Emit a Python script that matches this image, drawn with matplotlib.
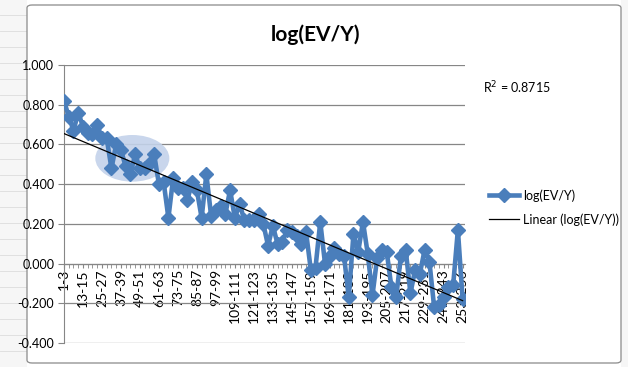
import numpy as np
import matplotlib
matplotlib.use("Agg")
import matplotlib.pyplot as plt
from matplotlib.patches import Ellipse, FancyBboxPatch, Rectangle
from matplotlib.lines import Line2D

plt.rcParams['font.family'] = ['Lato', 'DejaVu Sans']

# category groups 1-3, 4-6, ..., 250-252, 253-256
starts = list(range(1, 254, 3))
categories = [f"{s}-{s + 2}" for s in starts[:-1]] + ["253-256"]

log_ev_y = [
    0.82, 0.74, 0.67, 0.76, 0.69, 0.66, 0.65, 0.70, 0.63, 0.63,
    0.48, 0.60, 0.57, 0.49, 0.45, 0.55, 0.48, 0.48, 0.50, 0.55,
    0.40, 0.41, 0.23, 0.43, 0.38, 0.38, 0.32, 0.41, 0.37, 0.23,
    0.45, 0.24, 0.27, 0.29, 0.25, 0.37, 0.23, 0.30, 0.22, 0.22,
    0.22, 0.25, 0.20, 0.09, 0.19, 0.10, 0.11, 0.17, 0.16, 0.14,
    0.10, 0.16, -0.03, -0.02, 0.21, 0.00, 0.04, 0.08, 0.05, 0.04,
    -0.17, 0.15, 0.06, 0.21, 0.05, -0.16, 0.03, 0.07, 0.06, -0.12,
    -0.17, 0.04, 0.07, -0.15, -0.03, -0.05, 0.07, 0.01, -0.22, -0.21,
    -0.17, -0.12, -0.11, 0.17, -0.18,
]
r2_text = "R$^2$ = 0.8715"

x = np.arange(len(log_ev_y))
y = np.array(log_ev_y)
slope, intercept = np.polyfit(x, y, 1)
trend = slope * x + intercept

fig = plt.figure(figsize=(6.28, 3.67), dpi=100)
fig.patch.set_facecolor('white')

# spreadsheet strip + chart frame
fig.patches.append(Rectangle((0, 0), 27 / 628, 1, transform=fig.transFigure,
                             facecolor='#f6f6f6', edgecolor='none', zorder=-3))
for yy in np.arange(0, 1, 16 / 367):
    fig.lines.append(Line2D([0, 27 / 628], [yy, yy], transform=fig.transFigure,
                            color='#dcdcdc', lw=0.6, zorder=-2))
fig.patches.append(Rectangle((621 / 628, 0), 7 / 628, 1, transform=fig.transFigure,
                             facecolor='#f6f6f6', edgecolor='none', zorder=-3))
fig.patches.append(FancyBboxPatch((27 / 628, 4 / 367), 594 / 628, 358 / 367,
                                  boxstyle="round,pad=0,rounding_size=0.008",
                                  transform=fig.transFigure, facecolor='white',
                                  edgecolor='#8a8a8a', lw=0.9, zorder=-1))

ax = fig.add_axes([64 / 628, 1 - 343 / 367, 401 / 628, 278 / 367])
ax.set_zorder(2)
ax.set_facecolor('none')

ax.add_patch(Ellipse((14.4, 0.53), 15.6, 0.235, facecolor='#c3d2ea',
                     edgecolor='none', alpha=0.9, zorder=1))

ax.plot(x, y, color='#4a7ebb', lw=3.3, marker='D', markersize=7,
        markeredgecolor='#4a7ebb', zorder=3, label='log(EV/Y)')
ax.plot(x, trend, color='black', lw=0.9, zorder=4, label='Linear (log(EV/Y))')

ax.set_xlim(0, len(x) - 0.5)
ax.set_ylim(-0.4, 1.0)
ax.set_yticks(np.arange(-0.4, 1.01, 0.2))
ax.set_yticklabels([f"{v:.3f}" for v in np.arange(-0.4, 1.01, 0.2)], fontsize=9)
ax.yaxis.grid(True, color='#868686', lw=0.9)
ax.set_axisbelow(True)

ax.set_xticks(x, minor=True)
ax.set_xticks(x[::4])
ax.set_xticklabels(categories[::4], fontsize=9)
ax.tick_params(axis='x', which='both', direction='out', length=3, color='#868686', pad=1)
ax.tick_params(axis='x', which='major', labelrotation=90)
for lbl in ax.get_xticklabels():
    lbl.set_va('top')
ax.tick_params(axis='y', direction='out', length=4, color='#868686', pad=3)

ax.spines['bottom'].set_position(('data', 0))
for s in ['top', 'right']:
    ax.spines[s].set_visible(False)
for s in ['left', 'bottom']:
    ax.spines[s].set_color('#868686')

fig.text(315 / 628, 1 - 35 / 367, "log(EV/Y)", ha='center', va='center',
         fontsize=15, fontweight='bold')
fig.text(483 / 628, 1 - 88 / 367, r2_text, ha='left', va='center', fontsize=9)

fig.legend(loc='upper left', bbox_to_anchor=(478 / 628, 1 - 178 / 367),
           frameon=False, fontsize=9, handlelength=2.4, handletextpad=0.3,
           labelspacing=0.9)

fig.savefig('out.png', dpi=100)
